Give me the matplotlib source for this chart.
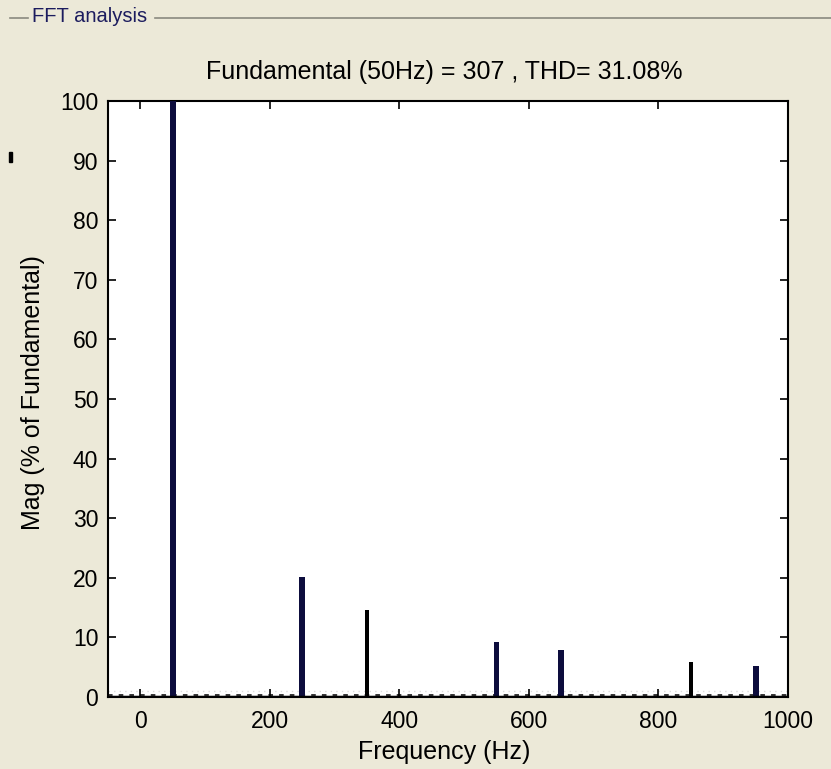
import matplotlib.pyplot as plt
from matplotlib.lines import Line2D
from matplotlib.patches import Rectangle

# harmonic spectrum (% of fundamental)
freq_main = [50, 250, 350, 550, 650, 850, 950]
mag_main = [100, 20.1, 14.6, 9.2, 7.9, 5.9, 5.2]
color_main = ["#0d0d3d", "#0d0d3d", "#000000", "#0d0d3d", "#0d0d3d", "#000000", "#0d0d3d"]
width_main = [9, 9, 6, 9, 9, 6, 9]

title = "Fundamental (50Hz) = 307 , THD= 31.08%"
bg = "#ece9d8"
W, H = 831, 769

plt.rcParams["font.family"] = ["Liberation Sans", "DejaVu Sans"]

fig = plt.figure(figsize=(W / 100, H / 100), dpi=100, facecolor=bg)
ax = fig.add_axes([108 / W, 1 - 697 / H, 680 / W, 596 / H])
ax.set_facecolor("white")

ax.bar(freq_main, mag_main, width=width_main, color=color_main, linewidth=0, zorder=3)
# noisy floor of the spectrum
ax.axhline(0.35, color="black", lw=1.1, ls=(0, (3, 4)), zorder=2)
ax.axhline(1.0, color="#dcdcdc", lw=1, ls=(0, (1, 3)), zorder=1)
ax.axhline(0, color="black", lw=2.5, zorder=3)

ax.set_xlim(-50, 1000)
ax.set_ylim(0, 100)
ax.set_xticks(range(0, 1001, 200))
ax.set_yticks(range(0, 101, 10))
ax.tick_params(direction="in", length=6, width=1.2, labelsize=16.5,
               top=True, right=True)
ax.tick_params(axis="y", pad=7)
ax.tick_params(axis="x", pad=9)
for s in ax.spines.values():
    s.set_linewidth(1.5)

ax.text((444 - 108) / 680, (697 - 72) / 596, title, transform=ax.transAxes,
        fontsize=18, ha="center", va="center")
ax.set_xlabel("Frequency (Hz)", fontsize=18, va="center")
ax.xaxis.set_label_coords((444 - 108) / 680, (697 - 752) / 596)
ax.set_ylabel("Mag (% of Fundamental)", fontsize=18, va="center")
ax.yaxis.set_label_coords((33 - 108) / 680, (697 - 393) / 596)

# panel frame
fig.text(32 / W, 1 - 16 / H, "FFT analysis", color="#1c1c5e", fontsize=14.5,
         va="center", ha="left")
fig.add_artist(Line2D([10 / W, 28 / W], [1 - 18 / H] * 2, color="#8a8a80", lw=1.2))
fig.add_artist(Line2D([155 / W, 1], [1 - 18 / H] * 2, color="#8a8a80", lw=1.2))
fig.add_artist(Rectangle((9 / W, 1 - 162 / H), 3 / W, 10 / H, color="black",
                         transform=fig.transFigure))

fig.savefig("out.png", dpi=100, facecolor=bg)
